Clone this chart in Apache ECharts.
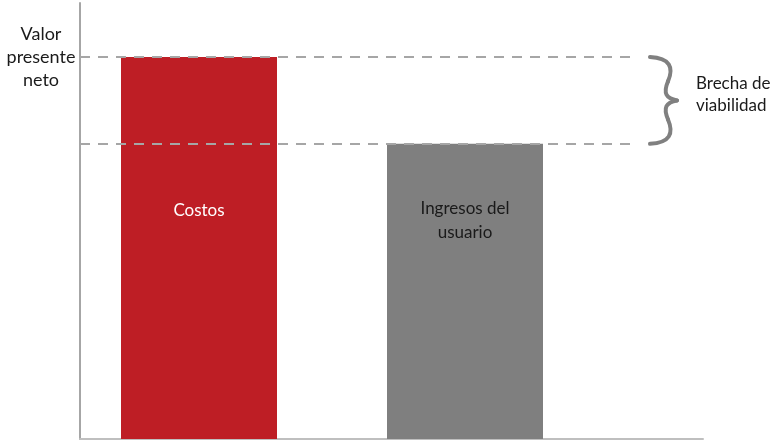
<!DOCTYPE html>
<html>
<head>
<meta charset="utf-8">
<script src="https://cdn.jsdelivr.net/npm/echarts@6/dist/echarts.min.js"></script>
<style>
  html, body { margin: 0; padding: 0; background: #fff; }
  #chart { width: 773px; height: 443px; }
</style>
</head>
<body>
<div id="chart"></div>
<script>
// datos del gráfico
const categories = ['Costos', 'Ingresos del\nusuario'];
const values = [87.6, 67.7];
const barColors = ['#BE1E25', '#7F7F7F'];
const yAxisName = 'Valor\npresente\nneto';
const gapLabel = 'Brecha de\nviabilidad';
const yMax = 100;

const font = 'Lato';
const chart = echarts.init(document.getElementById('chart'));

// desplazamiento de la etiqueta desde el tope de cada barra
const labelTop = [141, 53];

chart.setOption({
  animation: false,
  grid: [
    // ejes visibles
    { left: 80, right: 70, top: 3, bottom: 4 },
    // barras
    { left: 66, right: 175, top: 3, bottom: 4 }
  ],
  xAxis: [
    {
      gridIndex: 0, type: 'value', min: 0, max: 100,
      axisLine: { show: true, lineStyle: { color: '#BFBFBF', width: 2 } },
      axisTick: { show: false }, axisLabel: { show: false }, splitLine: { show: false }
    },
    {
      gridIndex: 1, type: 'category', data: categories,
      axisLine: { show: false }, axisTick: { show: false }, axisLabel: { show: false }
    }
  ],
  yAxis: [
    {
      gridIndex: 0, type: 'value', min: 0, max: yMax,
      axisLine: { show: true, lineStyle: { color: '#A6A6A6', width: 2 } },
      axisTick: { show: false }, axisLabel: { show: false }, splitLine: { show: false }
    },
    {
      gridIndex: 1, type: 'value', min: 0, max: yMax,
      axisLine: { show: false }, axisTick: { show: false }, axisLabel: { show: false }, splitLine: { show: false }
    }
  ],
  series: [
    {
      // líneas punteadas de referencia
      type: 'line', xAxisIndex: 0, yAxisIndex: 0, data: [], z: 1,
      markLine: {
        silent: true, symbol: 'none', label: { show: false },
        lineStyle: { color: '#A6A6A6', width: 2, type: [10, 8] },
        data: values.map(v => [{ coord: [0, v] }, { coord: [89.4, v] }])
      }
    },
    {
      type: 'bar', xAxisIndex: 1, yAxisIndex: 1, z: 3,
      barWidth: 156,
      data: values.map((v, i) => ({
        value: v,
        itemStyle: { color: barColors[i] },
        label: {
          show: true,
          formatter: categories[i],
          position: [78, labelTop[i]],
          align: 'center',
          verticalAlign: 'top',
          color: i === 0 ? '#FFFFFF' : '#1A1A1A',
          fontFamily: font,
          fontSize: 17,
          lineHeight: 24
        }
      }))
    }
  ]
});

// anotaciones: nombre del eje, llave y texto de la brecha
const yTop = chart.convertToPixel({ yAxisIndex: 0 }, values[0]);
const yLow = chart.convertToPixel({ yAxisIndex: 0 }, values[1]);
const yMid = (yTop + yLow) / 2;
const h = yLow - yTop;
const bx = 650;

// la llave se arma con cuatro curvas
function seg(x1, y1, c1x, c1y, c2x, c2y, x2, y2) {
  return {
    type: 'bezierCurve',
    shape: { x1: x1, y1: y1, cpx1: c1x, cpy1: c1y, cpx2: c2x, cpy2: c2y, x2: x2, y2: y2 },
    style: { fill: null, stroke: '#808080', lineWidth: 4, lineCap: 'round' }
  };
}

chart.setOption({
  graphic: [
    {
      type: 'text', x: 41, y: yTop,
      style: {
        text: yAxisName, fill: '#1A1A1A', font: '18px ' + font,
        lineHeight: 23, align: 'center', verticalAlign: 'middle'
      }
    },
    {
      type: 'text', x: 696, y: yMid - 6,
      style: {
        text: gapLabel, fill: '#1A1A1A', font: '17px ' + font,
        lineHeight: 22, align: 'left', verticalAlign: 'middle'
      }
    },
    seg(bx, yTop, bx + 20, yTop + 1, bx + 24, yTop + h * 0.12, bx + 18, yTop + h * 0.28),
    seg(bx + 18, yTop + h * 0.28, bx + 13, yTop + h * 0.42, bx + 16, yMid - 2, bx + 27, yMid),
    seg(bx + 27, yMid, bx + 16, yMid + 2, bx + 13, yLow - h * 0.42, bx + 18, yLow - h * 0.28),
    seg(bx + 18, yLow - h * 0.28, bx + 24, yLow - h * 0.12, bx + 20, yLow - 1, bx, yLow)
  ]
});
</script>
</body>
</html>
